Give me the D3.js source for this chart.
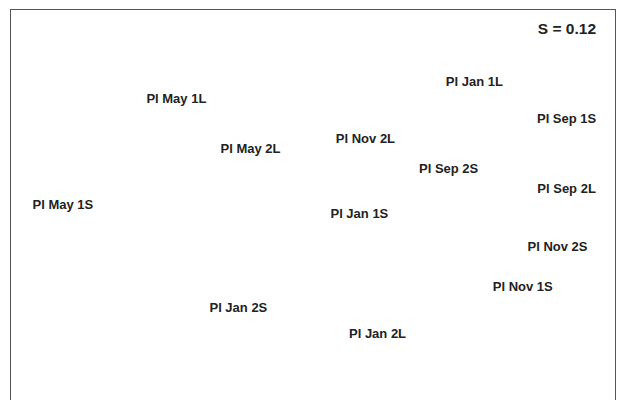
<!DOCTYPE html>
<html>
<head>
<meta charset="utf-8">
<script src="https://cdn.jsdelivr.net/npm/d3@7"></script>
<style>
body { margin: 0; background: #fff; }
text { font-family: Arial, "Liberation Sans", sans-serif; font-weight: bold; }
</style>
</head>
<body>
<div id="chart"></div>
<script>
var width = 618;
var height = 400;

// sample labels and their MDS coordinates
var labels = ["Pl Jan 1L", "Pl May 1L", "Pl Sep 1S", "Pl Nov 2L", "Pl May 2L", "Pl Sep 2S", "Pl Sep 2L",
  "Pl May 1S", "Pl Jan 1S", "Pl Nov 2S", "Pl Nov 1S", "Pl Jan 2S", "Pl Jan 2L"];
var dim1 = [1.07, -0.90, 1.68, 0.35, -0.41, 0.90, 1.68, -1.65, 0.31, 1.62, 1.39, -0.49, 0.43];
var dim2 = [0.94, 0.81, 0.66, 0.51, 0.43, 0.28, 0.12, 0.00, -0.07, -0.32, -0.63, -0.79, -0.99];
var stress = "S = 0.12";

var svg = d3.select("#chart").append("svg")
  .attr("width", width)
  .attr("height", height);

var x = d3.scaleLinear().domain([-2, 2]).range([10, 615]);
var y = d3.scaleLinear().domain([-1.5, 1.5]).range([400, 9]);

// frame
svg.append("rect")
  .attr("x", 10.5)
  .attr("y", 9.5)
  .attr("width", 605)
  .attr("height", 410)
  .attr("fill", "none")
  .attr("stroke", "#555")
  .attr("stroke-width", 1);

svg.append("text")
  .attr("x", 596)
  .attr("y", 28)
  .attr("text-anchor", "end")
  .attr("dominant-baseline", "central")
  .attr("font-size", 15.5)
  .attr("fill", "#222")
  .text(stress);

svg.selectAll("text.lab")
  .data(labels)
  .enter().append("text")
  .attr("class", "lab")
  .attr("x", function(d, i) { return x(dim1[i]); })
  .attr("y", function(d, i) { return y(dim2[i]); })
  .attr("text-anchor", "middle")
  .attr("dominant-baseline", "central")
  .attr("font-size", 13)
  .attr("fill", "#222")
  .text(function(d) { return d; });
</script>
</body>
</html>
